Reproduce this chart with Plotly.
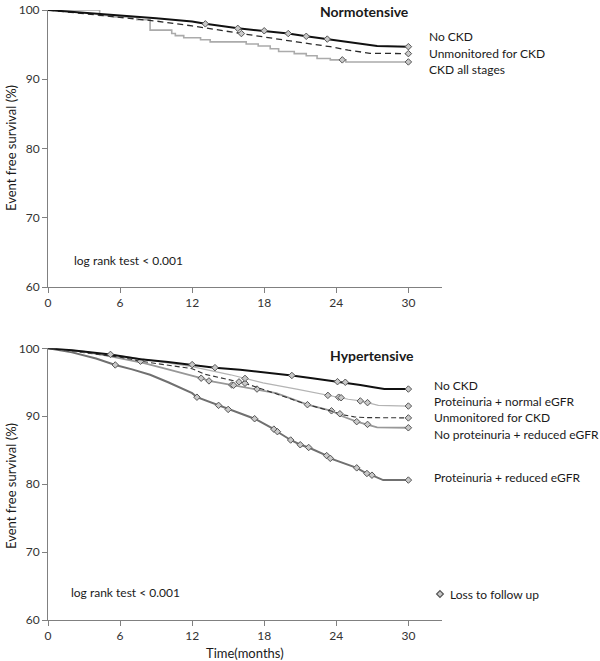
import numpy as np
import plotly.graph_objects as go

# ---------------- DATA ----------------
x_ticks = [0, 6, 12, 18, 24, 30]
y_ticks = [60, 70, 80, 90, 100]

# Normotensive
normo_labels = ["No CKD", "Unmonitored for CKD", "CKD all stages"]
n_nockd_t = [0, 3, 6, 9, 12, 13.1, 15.8, 18, 20, 21.5, 23.25, 25, 26.5, 27.4, 30]
n_nockd_s = [100, 99.6, 99.3, 98.8, 98.35, 98.0, 97.35, 97.0, 96.6, 96.2, 95.8, 95.35, 95.0, 94.8, 94.7]
n_nockd_cens = [13.1, 15.8, 18.0, 20.0, 21.5, 23.25, 30]

n_unmon_t = [0, 1.5, 3, 6, 9, 12, 14, 16.1, 18, 20.7, 23.5, 25, 26.8, 30]
n_unmon_s = [100, 99.75, 99.5, 99.0, 98.4, 97.7, 97.2, 96.6, 96.1, 95.4, 94.7, 94.2, 93.75, 93.7]
n_unmon_cens = [16.1, 30]

n_ckd_t = [0, 4.3, 5.5, 7.4, 8.5, 10.3, 10.6, 11.3, 12.7, 13.5, 16.5, 17.5, 18.5, 19.2, 20.5, 21.5, 22.4, 23.5, 24.8, 30]
n_ckd_s = [100, 99.2, 99.0, 98.6, 97.1, 96.6, 96.3, 96.0, 95.7, 95.4, 95.1, 94.8, 94.4, 94.0, 93.7, 93.4, 93.0, 92.8, 92.5, 92.5]
n_ckd_cens = [24.5, 30]

# Hypertensive
hyper_labels = ["No CKD", "Proteinuria + normal eGFR", "Unmonitored for CKD",
                "No proteinuria + reduced eGFR", "Proteinuria + reduced eGFR"]
h_nockd_t = [0, 2, 5.2, 7.7, 10, 12, 13.9, 16, 18, 20.3, 22, 24, 24.75, 26, 27.1, 28, 30]
h_nockd_s = [100, 99.7, 99.1, 98.4, 98.0, 97.6, 97.15, 96.85, 96.5, 96.0, 95.6, 95.1, 95.0, 94.6, 94.26, 94.0, 94.0]
h_nockd_cens = [5.2, 12.0, 13.9, 20.3, 24.1, 24.75, 30]

h_pnorm_t = [0, 3, 6, 9, 12, 15.2, 17.9, 20.7, 23.2, 24.2, 25, 26, 26.6, 27.5, 30]
h_pnorm_s = [100, 99.5, 98.9, 98.1, 97.3, 96.1, 94.9, 94.0, 93.1, 92.8, 92.5, 92.25, 92.0, 91.6, 91.5]
h_pnorm_cens = [16.4, 23.3, 24.2, 24.4, 26.0, 26.6, 30]

h_unmon_t = [0, 3, 6, 7.7, 9.9, 12, 13, 15.3, 16.4, 18, 20.4, 21.6, 23.5, 24.6, 25.5, 26.5, 30]
h_unmon_s = [100, 99.4, 98.7, 98.1, 97.5, 97.0, 96.2, 95.3, 94.85, 93.9, 92.4, 91.7, 90.8, 90.2, 89.9, 89.8, 89.75]
h_unmon_cens = [7.7, 15.9, 16.4, 21.6, 24.3, 30]

h_nprr_t = [0, 3, 5, 8, 10, 12, 12.75, 13.4, 15.3, 17.4, 19, 20.7, 21.6, 23.6, 24.5, 25.7, 26.6, 27.4, 30]
h_nprr_s = [100, 99.5, 98.9, 97.8, 96.9, 96.0, 95.6, 95.2, 94.6, 94.0, 93.4, 92.3, 91.7, 90.8, 90.0, 89.2, 88.8, 88.35, 88.3]
h_nprr_cens = [12.75, 13.4, 15.3, 15.45, 17.4, 23.6, 25.7, 26.6, 30]

h_prr_t = [0, 2, 4, 5.6, 7, 8.5, 10, 12, 12.4, 14.2, 15, 17.25, 18.8, 19.2, 20.2, 21, 21.7, 23.2, 23.5, 25.7, 26.5, 27, 27.9, 30]
h_prr_s = [100, 99.4, 98.5, 97.55, 96.9, 96.1, 95.0, 93.4, 92.8, 91.6, 91.0, 89.6, 88.1, 87.6, 86.5, 85.8, 85.4, 84.2, 83.8, 82.4, 81.6, 81.3, 80.6, 80.6]
h_prr_cens = [5.6, 12.4, 14.2, 15.0, 17.2, 18.8, 19.1, 20.2, 21.0, 21.7, 23.2, 23.5, 25.7, 26.55, 26.97, 30]

# ---------------- FIGURE ----------------
W, H = 600, 661
FONT = "Lato"
AX = "#808080"
MK_FILL = "#c8c8c8"
MK_LINE = "#555555"


def step_val(t, s, x):
    t = np.asarray(t); s = np.asarray(s)
    idx = np.searchsorted(t, x, side="right") - 1
    return s[np.clip(idx, 0, len(s) - 1)]


fig = go.Figure()


def add_curve(t, s, cens, color, width, dash, shape, xa, ya):
    fig.add_trace(go.Scatter(x=t, y=s, mode="lines", line=dict(color=color, width=width, dash=dash, shape=shape),
                             xaxis=xa, yaxis=ya, showlegend=False, hoverinfo="skip", cliponaxis=False))
    if shape == "hv":
        cy = step_val(t, s, np.asarray(cens))
    else:
        cy = np.interp(cens, t, s)
    fig.add_trace(go.Scatter(x=list(cens), y=[float(v) for v in cy], mode="markers",
                             marker=dict(symbol="diamond", size=5, color=MK_FILL, line=dict(color=MK_LINE, width=1)),
                             xaxis=xa, yaxis=ya, showlegend=False, hoverinfo="skip", cliponaxis=False))


# Normotensive
add_curve(n_ckd_t, n_ckd_s, n_ckd_cens, "#ababab", 1.6, "solid", "hv", "x", "y")
add_curve(n_unmon_t, n_unmon_s, n_unmon_cens, "#2a2a2a", 1.3, "6px,4px", "linear", "x", "y")
add_curve(n_nockd_t, n_nockd_s, n_nockd_cens, "#111111", 2.0, "solid", "linear", "x", "y")

# Hypertensive
add_curve(h_prr_t, h_prr_s, h_prr_cens, "#707070", 2.0, "solid", "linear", "x2", "y2")
add_curve(h_nprr_t, h_nprr_s, h_nprr_cens, "#989898", 1.8, "solid", "linear", "x2", "y2")
add_curve(h_unmon_t, h_unmon_s, h_unmon_cens, "#333333", 1.1, "5px,3px", "linear", "x2", "y2")
add_curve(h_pnorm_t, h_pnorm_s, h_pnorm_cens, "#b4b4b4", 1.2, "solid", "linear", "x2", "y2")
add_curve(h_nockd_t, h_nockd_s, h_nockd_cens, "#111111", 2.0, "solid", "linear", "x2", "y2")


def px(xp):
    return xp / W


def py(yp):
    return 1 - yp / H


xdom = [px(48), px(442)]
axis_common = dict(showline=True, linecolor=AX, linewidth=1, ticks="outside", ticklen=5, tickcolor=AX,
                   showgrid=False, zeroline=False, automargin=False,
                   tickfont=dict(family=FONT, size=12, color="#333333"))

fig.update_layout(
    template="none",
    width=W, height=H, margin=dict(l=0, r=0, t=0, b=0, pad=0, autoexpand=False),
    paper_bgcolor="white", plot_bgcolor="rgba(0,0,0,0)",
    font=dict(family=FONT, size=12, color="#222222"),
    xaxis=dict(domain=xdom, range=[0, 32.8], tickvals=x_ticks, anchor="y", **axis_common),
    yaxis=dict(domain=[py(287), py(10)], range=[60, 100], tickvals=y_ticks, anchor="x", **axis_common),
    xaxis2=dict(domain=xdom, range=[0, 32.8], tickvals=x_ticks, anchor="y2", **axis_common),
    yaxis2=dict(domain=[py(620), py(348.3)], range=[60, 100], tickvals=y_ticks, anchor="x2", **axis_common),
)

ann = []


def text(x, y, s, size=12, bold=False, xanchor="left", angle=0):
    ann.append(dict(x=px(x), y=py(y), xref="paper", yref="paper", text=("<b>%s</b>" % s) if bold else s,
                    showarrow=False, xanchor=xanchor, yanchor="middle", textangle=angle,
                    font=dict(family=FONT, size=size, color="#1a1a1a")))


text(365, 12, "Normotensive", size=14, bold=True, xanchor="center")
for lab, yy in zip(normo_labels, [37, 53.5, 69.5]):
    text(427, yy, lab)
text(72, 260, "log rank test &lt; 0.001")

text(372, 355, "Hypertensive", size=14, bold=True, xanchor="center")
for lab, yy in zip(hyper_labels, [385, 401, 417.7, 434.3, 477.7]):
    text(432, yy, lab)
text(69, 592, "log rank test &lt; 0.001")
text(448, 594, "Loss to follow up")
text(245, 653, "Time(months)", size=13, xanchor="center")
text(11, 148, "Event free survival (%)", size=13, xanchor="center", angle=-90)
text(11, 486, "Event free survival (%)", size=13, xanchor="center", angle=-90)

fig.update_layout(annotations=ann)

# legend diamond symbol for "Loss to follow up"
cx, cy, r = 440, 594, 3.4
fig.add_shape(type="path", xref="paper", yref="paper",
              path="M %f,%f L %f,%f L %f,%f L %f,%f Z" % (px(cx), py(cy - r), px(cx + r), py(cy),
                                                         px(cx), py(cy + r), px(cx - r), py(cy)),
              fillcolor=MK_FILL, line=dict(color=MK_LINE, width=1.2))

fig.write_html("out.html", config={"displayModeBar": False, "staticPlot": True},
               post_script="document.body.style.margin='0px';document.body.style.overflow='hidden';")
